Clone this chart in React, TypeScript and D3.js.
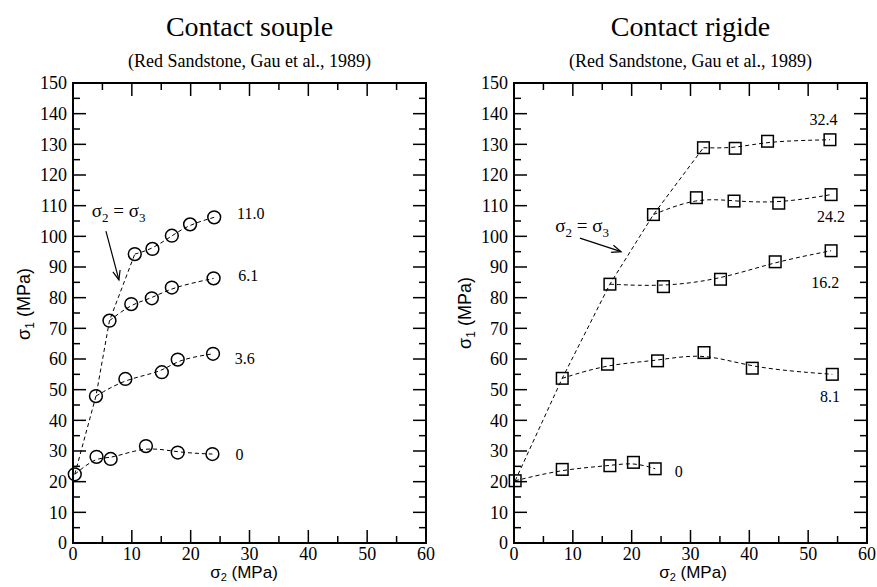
import React from "react";
import * as d3 from "d3";

const W = 877;
const H = 587;

const xMajor = [0, 10, 20, 30, 40, 50, 60];
const xMinor = [5, 15, 25, 35, 45, 55];
const yMajor = [0, 10, 20, 30, 40, 50, 60, 70, 80, 90, 100, 110, 120, 130, 140, 150];
const yMinor = [5, 15, 25, 35, 45, 55, 65, 75, 85, 95, 105, 115, 125, 135, 145];

// Contact souple (left)
const leftLabels = ["0", "3.6", "6.1", "11.0"];
const left0X = [0.3, 4.0, 6.4, 12.4, 17.8, 23.7];
const left0Y = [22.4, 28.1, 27.4, 31.6, 29.5, 29.0];
const left36X = [3.9, 8.9, 15.1, 17.8, 23.8];
const left36Y = [47.9, 53.5, 55.7, 59.8, 61.7];
const left61X = [6.2, 9.9, 13.4, 16.8, 23.9];
const left61Y = [72.5, 77.9, 79.8, 83.3, 86.3];
const left110X = [10.5, 13.5, 16.8, 19.9, 24.0];
const left110Y = [94.2, 95.9, 100.2, 103.9, 106.2];
const leftLabelX = [28.3, 29.2, 29.8, 30.2];
const leftLabelY = [29.0, 60.3, 87.1, 107.6];

// Contact rigide (right)
const rightLabels = ["0", "8.1", "16.2", "24.2", "32.4"];
const right0X = [0.2, 8.2, 16.3, 20.3, 24.0];
const right0Y = [20.3, 24.0, 25.2, 26.3, 24.2];
const right81X = [8.2, 15.9, 24.4, 32.3, 40.5, 54.1];
const right81Y = [53.7, 58.3, 59.4, 62.1, 57.0, 55.0];
const right162X = [16.3, 25.4, 35.1, 44.4, 53.9];
const right162Y = [84.4, 83.6, 86.0, 91.7, 95.3];
const right242X = [23.7, 31.0, 37.4, 45.0, 53.9];
const right242Y = [107.1, 112.6, 111.5, 110.8, 113.6];
const right324X = [32.2, 37.6, 43.1, 53.7];
const right324Y = [128.9, 128.7, 131.0, 131.5];
const rightLabelX = [28.0, 53.7, 52.9, 53.9, 52.6];
const rightLabelY = [23.2, 47.7, 85.1, 106.6, 138.2];

const SERIF = "Liberation Serif, Times New Roman, DejaVu Serif, serif";
const SANS = "Liberation Sans, Arial, sans-serif";

const serif = (size: number): React.CSSProperties => ({ fontFamily: SERIF, fontSize: size });
const sans = (size: number): React.CSSProperties => ({ fontFamily: SANS, fontSize: size });

type Series = { xs: number[]; ys: number[] };

type PanelProps = {
  x0: number;
  x1: number;
  y0: number;
  y1: number;
  title: string;
  subtitle: string;
  marker: "circle" | "square";
  series: Series[];
  labels: string[];
  labelX: number[];
  labelY: number[];
  annot: { tx: number; ty: number; ax1: number; ay1: number; ax2: number; ay2: number };
  yTitleX: number;
  yTitleY: number;
  xTitleX: number;
};

function Panel(p: PanelProps) {
  const x = d3.scaleLinear().domain([0, 60]).range([p.x0, p.x1]);
  const y = d3.scaleLinear().domain([0, 150]).range([p.y1, p.y0]);
  const fit = d3
    .line<[number, number]>()
    .x((d) => x(d[0]))
    .y((d) => y(d[1]))
    .curve(d3.curveBasis);
  const straight = d3
    .line<[number, number]>()
    .x((d) => x(d[0]))
    .y((d) => y(d[1]));
  const hydro: [number, number][] = p.series.map((s) => [s.xs[0], s.ys[0]]);
  const major = 13;
  const minor = 7;
  const { tx, ty, ax1, ay1, ax2, ay2 } = p.annot;
  const X1 = x(ax1), Y1 = y(ay1), X2 = x(ax2), Y2 = y(ay2);
  const ang = Math.atan2(Y2 - Y1, X2 - X1);
  const hl = 10, hw = 0.38;
  const h1 = [X2 - hl * Math.cos(ang - hw), Y2 - hl * Math.sin(ang - hw)];
  const h2 = [X2 - hl * Math.cos(ang + hw), Y2 - hl * Math.sin(ang + hw)];
  const cx = (p.x0 + p.x1) / 2;
  return (
    <g>
      <text x={cx} y={36} textAnchor="middle" style={serif(28)}>
        {p.title}
      </text>
      <text x={cx} y={67} textAnchor="middle" style={serif(18)}>
        {p.subtitle}
      </text>
      {xMajor.map((v) => (
        <g key={"xM" + v}>
          <line x1={x(v)} x2={x(v)} y1={p.y1} y2={p.y1 - major} stroke="#000" strokeWidth={1.5} />
          <line x1={x(v)} x2={x(v)} y1={p.y0} y2={p.y0 + major} stroke="#000" strokeWidth={1.5} />
          <text x={x(v)} y={p.y1 + 17} textAnchor="middle" style={serif(18)}>
            {v}
          </text>
        </g>
      ))}
      {xMinor.map((v) => (
        <g key={"xm" + v}>
          <line x1={x(v)} x2={x(v)} y1={p.y1} y2={p.y1 - minor} stroke="#000" strokeWidth={1.5} />
          <line x1={x(v)} x2={x(v)} y1={p.y0} y2={p.y0 + minor} stroke="#000" strokeWidth={1.5} />
        </g>
      ))}
      {yMajor.map((v) => (
        <g key={"yM" + v}>
          <line x1={p.x0} x2={p.x0 + major} y1={y(v)} y2={y(v)} stroke="#000" strokeWidth={1.5} />
          <line x1={p.x1} x2={p.x1 - major} y1={y(v)} y2={y(v)} stroke="#000" strokeWidth={1.5} />
          <text x={p.x0 - 6} y={y(v)} dy="0.35em" textAnchor="end" style={serif(18)}>
            {v}
          </text>
        </g>
      ))}
      {yMinor.map((v) => (
        <g key={"ym" + v}>
          <line x1={p.x0} x2={p.x0 + minor} y1={y(v)} y2={y(v)} stroke="#000" strokeWidth={1.5} />
          <line x1={p.x1} x2={p.x1 - minor} y1={y(v)} y2={y(v)} stroke="#000" strokeWidth={1.5} />
        </g>
      ))}
      <rect
        x={p.x0}
        y={p.y0}
        width={p.x1 - p.x0}
        height={p.y1 - p.y0}
        fill="none"
        stroke="#000"
        strokeWidth={2}
      />
      <text x={p.xTitleX} y={p.y1 + 35} textAnchor="middle" style={sans(17)}>
        σ<tspan style={{ fontSize: 11 }} dy={3}>2</tspan>
        <tspan dy={-3}> (MPa)</tspan>
      </text>
      <text
        transform={`translate(${p.yTitleX},${p.yTitleY}) rotate(-90)`}
        textAnchor="middle"
        style={sans(18)}
      >
        σ<tspan style={{ fontSize: 12 }} dy={4}>1</tspan>
        <tspan dy={-4}> (MPa)</tspan>
      </text>
      <path d={straight(hydro) || ""} fill="none" stroke="#000" strokeWidth={1} strokeDasharray="4,3" />
      {p.series.map((s, i) => {
        const pts: [number, number][] = s.xs.map((v, j) => [v, s.ys[j]]);
        return (
          <path
            key={"c" + i}
            d={fit(pts) || ""}
            fill="none"
            stroke="#000"
            strokeWidth={1}
            strokeDasharray="4,3"
          />
        );
      })}
      {p.series.map((s, i) =>
        s.xs.map((v, j) =>
          p.marker === "circle" ? (
            <circle
              key={"m" + i + "_" + j}
              cx={x(v)}
              cy={y(s.ys[j])}
              r={6.4}
              fill="none"
              stroke="#000"
              strokeWidth={1.5}
            />
          ) : (
            <rect
              key={"m" + i + "_" + j}
              x={x(v) - 5.8}
              y={y(s.ys[j]) - 5.8}
              width={11.6}
              height={11.6}
              fill="none"
              stroke="#000"
              strokeWidth={1.5}
            />
          )
        )
      )}
      {p.labels.map((l, i) => (
        <text
          key={"l" + i}
          x={x(p.labelX[i])}
          y={y(p.labelY[i])}
          dy="0.35em"
          textAnchor="middle"
          style={serif(16)}
        >
          {l}
        </text>
      ))}
      <text x={x(tx)} y={y(ty)} dy="0.35em" style={serif(19)}>
        σ<tspan style={{ fontSize: 13 }} dy={5}>2</tspan>
        <tspan dy={-5}> = σ</tspan>
        <tspan style={{ fontSize: 13 }} dy={5}>3</tspan>
      </text>
      <line x1={X1} y1={Y1} x2={X2} y2={Y2} stroke="#000" strokeWidth={1.2} />
      <polyline
        points={`${h1[0]},${h1[1]} ${X2},${Y2} ${h2[0]},${h2[1]}`}
        fill="none"
        stroke="#000"
        strokeWidth={1.2}
      />
    </g>
  );
}

export default function App() {
  const leftSeries: Series[] = [
    { xs: left0X, ys: left0Y },
    { xs: left36X, ys: left36Y },
    { xs: left61X, ys: left61Y },
    { xs: left110X, ys: left110Y },
  ];
  const rightSeries: Series[] = [
    { xs: right0X, ys: right0Y },
    { xs: right81X, ys: right81Y },
    { xs: right162X, ys: right162Y },
    { xs: right242X, ys: right242Y },
    { xs: right324X, ys: right324Y },
  ];
  return (
    <div style={{ position: "absolute", left: 0, top: 0 }}>
      <svg width={W} height={H} style={{ display: "block", background: "#fff" }}>
        <rect x={0} y={0} width={W} height={H} fill="#fff" />
        <Panel
          x0={73}
          x1={426}
          y0={83}
          y1={543}
          title="Contact souple"
          subtitle="(Red Sandstone, Gau et al., 1989)"
          marker="circle"
          series={leftSeries}
          labels={leftLabels}
          labelX={leftLabelX}
          labelY={leftLabelY}
          annot={{ tx: 3.2, ty: 108.6, ax1: 5.6, ay1: 101.7, ax2: 7.8, ay2: 85.8 }}
          yTitleX={30}
          yTitleY={304}
          xTitleX={244}
        />
        <Panel
          x0={514}
          x1={867}
          y0={83}
          y1={543}
          title="Contact rigide"
          subtitle="(Red Sandstone, Gau et al., 1989)"
          marker="square"
          series={rightSeries}
          labels={rightLabels}
          labelX={rightLabelX}
          labelY={rightLabelY}
          annot={{ tx: 7.0, ty: 103.7, ax1: 11.2, ay1: 99.4, ax2: 18.2, ay2: 95.0 }}
          yTitleX={471}
          yTitleY={313}
          xTitleX={693}
        />
      </svg>
    </div>
  );
}
